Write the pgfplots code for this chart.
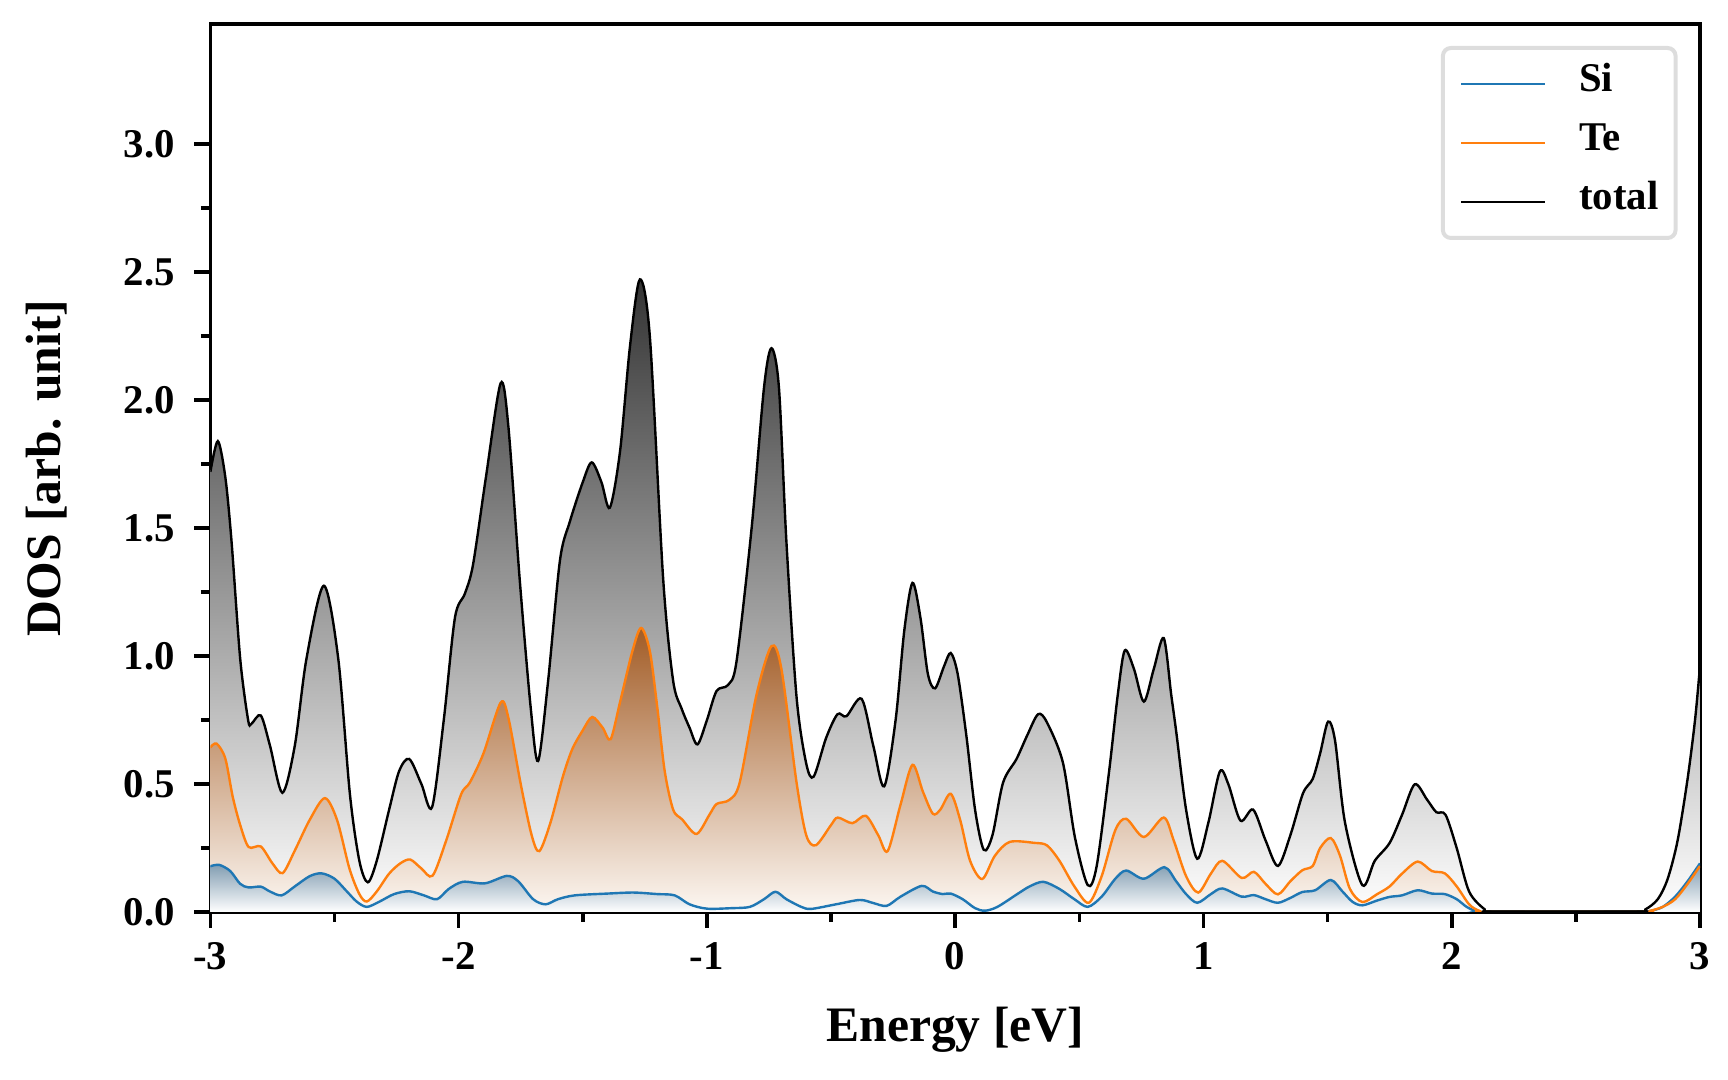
\documentclass[border=0pt]{standalone}
\usepackage{fontspec}
\setmainfont{Liberation Serif}
\usepackage{pgfplots}
\pgfplotsset{compat=1.18}
\usepackage{pgfplotstable}
\definecolor{siblue}{HTML}{1F77B4}
\definecolor{teorange}{HTML}{FF7F0E}
\definecolor{tottop}{HTML}{333333}
\definecolor{tetop}{HTML}{A25C26}
\definecolor{tebot}{HTML}{FDF8F3}
\definecolor{sitop}{HTML}{7F9BB0}
\definecolor{legedge}{HTML}{DDDDDD}

\pgfplotstableread{
x y
-3.00 1.72
-2.97 1.84
-2.94 1.70
-2.915 1.45
-2.88 0.99
-2.848 0.75
-2.835 0.735
-2.797 0.768
-2.76 0.65
-2.71 0.466
-2.66 0.65
-2.613 0.99
-2.543 1.275
-2.485 0.99
-2.438 0.46
-2.40 0.20
-2.366 0.116
-2.33 0.20
-2.28 0.40
-2.24 0.55
-2.199 0.598
-2.15 0.50
-2.107 0.41
-2.06 0.75
-2.015 1.15
-1.975 1.244
-1.942 1.358
-1.89 1.70
-1.831 2.066
-1.80 1.90
-1.754 1.298
-1.71 0.80
-1.68 0.59
-1.64 0.90
-1.592 1.374
-1.552 1.526
-1.50 1.68
-1.464 1.757
-1.425 1.68
-1.391 1.58
-1.35 1.80
-1.31 2.21
-1.27 2.472
-1.23 2.25
-1.176 1.298
-1.136 0.903
-1.102 0.795
-1.07 0.72
-1.038 0.655
-1.00 0.75
-0.961 0.864
-0.915 0.887
-0.881 0.978
-0.82 1.50
-0.77 2.05
-0.74 2.203
-0.71 2.05
-0.68 1.45
-0.639 0.84
-0.60 0.58
-0.57 0.529
-0.52 0.68
-0.474 0.773
-0.438 0.765
-0.377 0.833
-0.33 0.65
-0.286 0.491
-0.24 0.75
-0.205 1.10
-0.172 1.286
-0.14 1.15
-0.11 0.93
-0.081 0.874
-0.045 0.96
-0.018 1.012
0.01 0.93
0.045 0.689
0.08 0.40
0.115 0.243
0.15 0.30
0.193 0.506
0.247 0.598
0.29 0.69
0.334 0.773
0.37 0.74
0.434 0.583
0.482 0.293
0.534 0.105
0.57 0.18
0.62 0.55
0.655 0.85
0.683 1.022
0.72 0.95
0.76 0.822
0.80 0.95
0.84 1.07
0.87 0.85
0.891 0.699
0.93 0.40
0.975 0.208
1.02 0.35
1.066 0.549
1.10 0.50
1.149 0.357
1.20 0.40
1.25 0.28
1.30 0.18
1.35 0.30
1.401 0.464
1.44 0.52
1.47 0.62
1.502 0.744
1.53 0.67
1.57 0.35
1.64 0.105
1.69 0.20
1.75 0.27
1.80 0.38
1.851 0.499
1.90 0.44
1.938 0.39
1.975 0.38
2.02 0.25
2.07 0.08
2.133 0.01
2.17 0.0
2.737 0.0
2.78 0.01
2.83 0.05
2.87 0.13
2.91 0.28
2.95 0.52
2.98 0.75
3.00 0.96
}\totaltab

\pgfplotstableread{
x y
-3.00 0.643
-2.975 0.658
-2.94 0.60
-2.91 0.45
-2.88 0.34
-2.846 0.254
-2.797 0.256
-2.75 0.19
-2.709 0.152
-2.66 0.24
-2.60 0.36
-2.539 0.445
-2.49 0.36
-2.44 0.17
-2.40 0.07
-2.37 0.041
-2.33 0.08
-2.28 0.15
-2.235 0.19
-2.195 0.205
-2.15 0.17
-2.105 0.142
-2.05 0.28
-1.99 0.46
-1.955 0.506
-1.90 0.62
-1.831 0.818
-1.80 0.76
-1.75 0.50
-1.706 0.30
-1.675 0.238
-1.63 0.35
-1.58 0.53
-1.542 0.637
-1.50 0.71
-1.462 0.762
-1.42 0.72
-1.388 0.675
-1.35 0.82
-1.30 1.02
-1.265 1.11
-1.23 1.02
-1.20 0.80
-1.17 0.55
-1.136 0.40
-1.10 0.362
-1.042 0.305
-0.99 0.38
-0.961 0.422
-0.91 0.438
-0.868 0.506
-0.80 0.85
-0.74 1.039
-0.70 0.95
-0.639 0.506
-0.60 0.30
-0.561 0.261
-0.50 0.34
-0.473 0.369
-0.414 0.347
-0.36 0.376
-0.31 0.30
-0.272 0.238
-0.22 0.42
-0.172 0.575
-0.13 0.47
-0.09 0.384
-0.06 0.40
-0.018 0.462
0.02 0.36
0.06 0.20
0.109 0.129
0.16 0.22
0.22 0.274
0.32 0.27
0.37 0.26
0.42 0.20
0.48 0.10
0.538 0.036
0.59 0.14
0.645 0.32
0.689 0.364
0.76 0.293
0.84 0.369
0.88 0.28
0.93 0.14
0.979 0.076
1.03 0.15
1.076 0.20
1.154 0.133
1.203 0.157
1.25 0.11
1.30 0.069
1.35 0.12
1.398 0.163
1.44 0.18
1.47 0.25
1.513 0.289
1.55 0.22
1.59 0.09
1.64 0.039
1.70 0.07
1.75 0.10
1.80 0.15
1.863 0.197
1.92 0.16
1.972 0.151
2.02 0.10
2.07 0.03
2.11 0.005
2.15 0.0
2.757 0.0
2.80 0.005
2.85 0.02
2.90 0.05
2.95 0.11
3.00 0.18
}\tetab

\pgfplotstableread{
x y
-3.00 0.179
-2.964 0.184
-2.92 0.16
-2.88 0.11
-2.846 0.096
-2.797 0.099
-2.76 0.08
-2.713 0.065
-2.66 0.10
-2.60 0.14
-2.552 0.151
-2.50 0.13
-2.45 0.08
-2.41 0.04
-2.37 0.02
-2.32 0.04
-2.26 0.07
-2.199 0.081
-2.14 0.065
-2.087 0.05
-2.04 0.09
-1.983 0.118
-1.894 0.112
-1.806 0.141
-1.76 0.12
-1.70 0.05
-1.65 0.03
-1.60 0.05
-1.532 0.065
-1.40 0.072
-1.296 0.076
-1.20 0.07
-1.13 0.065
-1.07 0.03
-1.00 0.013
-0.90 0.015
-0.827 0.02
-0.77 0.05
-0.724 0.079
-0.68 0.05
-0.62 0.02
-0.58 0.012
-0.48 0.03
-0.384 0.047
-0.33 0.035
-0.276 0.024
-0.22 0.06
-0.135 0.102
-0.09 0.08
-0.05 0.07
-0.018 0.072
0.03 0.05
0.08 0.015
0.12 0.005
0.17 0.02
0.25 0.07
0.30 0.10
0.355 0.118
0.42 0.09
0.48 0.05
0.534 0.02
0.59 0.06
0.645 0.13
0.689 0.162
0.76 0.13
0.843 0.175
0.89 0.12
0.93 0.07
0.975 0.036
1.03 0.07
1.076 0.092
1.154 0.06
1.203 0.066
1.25 0.05
1.30 0.036
1.35 0.055
1.398 0.078
1.45 0.085
1.513 0.125
1.56 0.08
1.60 0.04
1.64 0.026
1.70 0.045
1.75 0.059
1.80 0.065
1.863 0.085
1.92 0.072
1.972 0.07
2.02 0.05
2.06 0.02
2.10 0.003
2.15 0.0
2.76 0.0
2.80 0.004
2.85 0.02
2.90 0.06
2.95 0.12
3.00 0.19
}\sitab

\begin{document}
\begin{tikzpicture}
\begin{axis}[
  at={(0pt,0pt)}, anchor=south west,
  scale only axis, width=372.4pt, height=222pt,
  xmin=-3, xmax=3, ymin=0, ymax=3.47,
  xtick={-3,-2,-1,0,1,2,3}, xticklabels={-3,-2,-1,0,1,2,3},
  ytick={0,0.5,1,1.5,2,2.5,3}, yticklabels={0.0,0.5,1.0,1.5,2.0,2.5,3.0},
  minor x tick num=1, minor y tick num=1,
  tick align=outside, xtick pos=bottom, ytick pos=left,
  major tick length=4pt, minor tick length=2.4pt,
  tick style={black, line width=0.9pt},
  axis line style={line width=0.9pt},
  ticklabel style={font=\fontsize{10.2}{12}\selectfont\bfseries},
  yticklabel style={xshift=-1.4pt},
  xlabel={Energy [eV]}, ylabel={DOS [arb. unit]},
  label style={font=\fontsize{12.4}{14}\selectfont\bfseries},
  xlabel style={at={(axis description cs:0.5,-0.1329)}, anchor=center},
  ylabel style={at={(axis description cs:-0.1101,0.5)}, anchor=center},
  legend cell align=left,
  legend image code/.code={\draw[#1] (0pt,0pt) -- (21pt,0pt);},
  legend style={at={(1,1)}, anchor=north east, xshift=-5.6pt, yshift=-5.5pt,
    draw=legedge, line width=1pt, rounded corners=2pt, fill=white,
    font=\fontsize{10.2}{12}\selectfont\bfseries,
    inner xsep=4.25pt, inner ysep=4pt, row sep=4.75pt, /tikz/column sep=0pt,
    /tikz/every odd column/.append style={column sep=8.25pt},
    nodes={inner sep=0pt, text height=7pt, text depth=3pt}},
]
\addplot[draw=none, forget plot, top color=tottop, bottom color=white, smooth, tension=0.5] table[x=x,y=y]{\totaltab} \closedcycle;
\addplot[draw=none, forget plot, top color=tetop, bottom color=tebot, smooth, tension=0.5] table[x=x,y=y]{\tetab} \closedcycle;
\addplot[draw=none, forget plot, top color=sitop, bottom color=white, smooth, tension=0.5] table[x=x,y=y]{\sitab} \closedcycle;
\addplot[siblue, line width=0.6pt, smooth, tension=0.5] table[x=x,y=y]{\sitab};
\addlegendentry{Si}
\addplot[teorange, line width=0.6pt, smooth, tension=0.5] table[x=x,y=y]{\tetab};
\addlegendentry{Te}
\addplot[black, line width=0.6pt, smooth, tension=0.5] table[x=x,y=y]{\totaltab};
\addlegendentry{total}
\end{axis}
\pgfresetboundingbox
\useasboundingbox (-52.6pt,-42pt) rectangle (379.4pt,228pt);
\end{tikzpicture}
\end{document}
